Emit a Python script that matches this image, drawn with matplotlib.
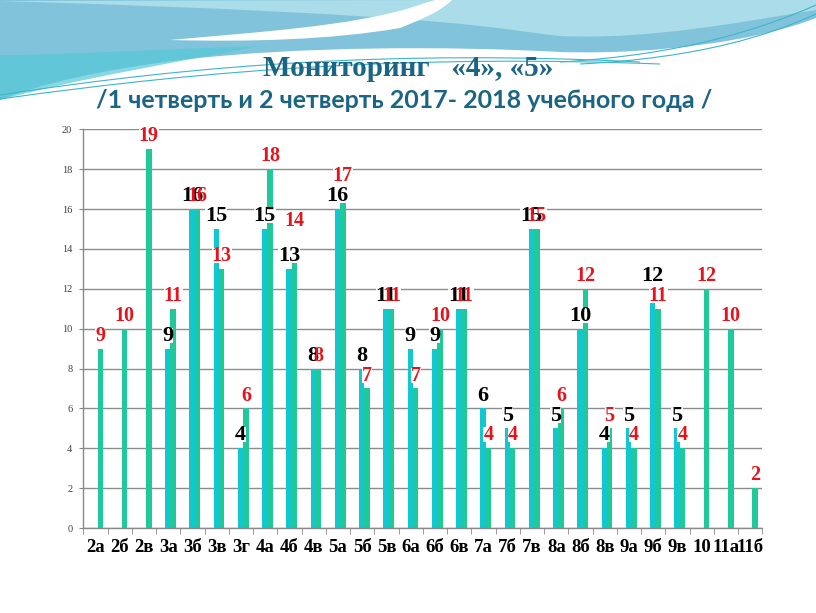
import numpy as np
import matplotlib
matplotlib.use("Agg")
import matplotlib.pyplot as plt
from matplotlib.path import Path
from matplotlib.patches import PathPatch, Rectangle

# ---------------- data ----------------
classes = ["2а", "2б", "2в", "3а", "3б", "3в", "3г", "4а", "4б", "4в",
           "5а", "5б", "5в", "6а", "6б", "6в", "7а", "7б", "7в", "8а",
           "8б", "8в", "9а", "9б", "9в", "10", "11а", "11б"]
q1 = [None, None, None, 9, 16, 15, 4, 15, 13, 8,
      16, 8, 11, 9, 9, 11, 6, 5, 15, 5,
      10, 4, 5, 12, 5, None, None, None]
q2 = [9, 10, 19, 11, 16, 13, 6, 18, 14, 8,
      17, 7, 11, 7, 10, 11, 4, 4, 15, 6,
      12, 5, 4, 11, 4, 12, 10, 2]
yticks = list(range(0, 21, 2))
title1 = "Мониторинг   «4», «5»"
title2 = "/1 четверть и 2 четверть 2017- 2018 учебного года /"

# ---------------- style ----------------
W, H = 816, 613
C_Q1 = "#12C8D0"
C_Q2 = "#1FC99A"
C_TITLE = "#1B6584"
C_RED = "#E5141C"
# extra vertical nudges (points) for a few labels of series 2
red_nudge = {"4б": 11}

fig = plt.figure(figsize=(W / 100, H / 100), dpi=100)
fig.patch.set_facecolor("white")


def px(pts):
    return [(x / W, 1 - y / H) for x, y in pts]


def add_shape(verts, codes, color, z=0, alpha=1.0):
    p = Path(px(verts), codes)
    patch = PathPatch(p, facecolor=color, edgecolor="none", transform=fig.transFigure,
                      zorder=z, alpha=alpha)
    fig.patches.append(patch)


M, L, C4, CL = Path.MOVETO, Path.LINETO, Path.CURVE4, Path.CLOSEPOLY

# blue top band
add_shape([(0, 0), (816, 0), (816, 18),
           (760, 40), (660, 55), (560, 52),
           (450, 46), (300, 46), (180, 60),
           (100, 70), (40, 84), (0, 100), (0, 0)],
          [M, L, L, C4, C4, C4, C4, C4, C4, C4, C4, C4, CL], "#82C3DC", z=0)
# cyan tint near left
add_shape([(0, 55), (60, 55), (140, 50), (260, 46), (180, 62), (80, 78), (0, 100), (0, 55)],
          [M, C4, C4, C4, C4, C4, C4, CL], "#55C8D8", z=0.1, alpha=0.7)
# light cyan top right
add_shape([(450, 0), (816, 0), (816, 10),
           (740, 22), (650, 40), (560, 36),
           (500, 30), (470, 15), (450, 0)],
          [M, L, L, C4, C4, C4, C4, C4, CL], "#AADDE9", z=0.2)
# white swoosh
add_shape([(170, 40), (260, 32), (350, 26), (410, 8),
           (425, 3), (435, 0), (452, 0),
           (440, 12), (420, 20), (400, 28),
           (330, 40), (250, 42), (170, 40)],
          [M, C4, C4, C4, L, L, L, C4, C4, C4, C4, C4, C4], "white", z=0.3)
# thin lines
for (a, b, c, d) in [((0, 95), (200, 64), (400, 50), (640, 62)),
                     ((0, 99), (220, 68), (420, 55), (660, 64)),
                     ((560, 62), (680, 55), (760, 30), (816, 5)),
                     ((580, 64), (700, 58), (770, 35), (816, 14))]:
    p = Path(px([a, b, c, d]), [M, C4, C4, C4])
    fig.patches.append(PathPatch(p, facecolor="none", edgecolor="#3DB5CC", lw=0.8,
                                 transform=fig.transFigure, zorder=0.4))

# titles
fig.text(0.5, 1 - 68 / H, title1, ha="center", va="center", fontsize=21,
         fontweight="bold", family="Liberation Serif", color=C_TITLE)
fig.text(404.5 / W, 1 - 101 / H, title2, ha="center", va="center", fontsize=18,
         fontweight="bold", family="Lato", color=C_TITLE)

# axes
ax = fig.add_axes([83.4 / W, 1 - 528 / H, (762.4 - 83.4) / W, (528 - 129.3) / H])
ax.set_facecolor("none")

n = len(classes)
x = np.arange(n)
bw = 0.22
off = 0.09
v1 = np.array([np.nan if v is None else v for v in q1], dtype=float)
v2 = np.array(q2, dtype=float)

ax.bar(x + off - bw / 2, v1, width=bw, color=C_Q1, zorder=2)
ax.bar(x + off + bw / 2, v2, width=bw, color=C_Q2, zorder=2)

labels = []


def label(xp, yp, txt, dy, size, color, z):
    t = ax.annotate(txt, (xp, yp), xytext=(0, dy), textcoords="offset points",
                    ha="center", va="bottom", fontsize=size, fontweight="bold",
                    family="Liberation Serif", color=color, zorder=z)
    labels.append(t)


for i, name in enumerate(classes):
    if not np.isnan(v1[i]):
        label(x[i] + off - bw / 2, v1[i], f"{int(v1[i])}", 2, 16, "black", 3)
for i, name in enumerate(classes):
    label(x[i] + off + bw / 2, v2[i], f"{int(v2[i])}", 2 + red_nudge.get(name, 0),
          14.5, C_RED, 4)

ax.set_xlim(-0.5, n - 0.5)
ax.set_ylim(0, 20)
ax.set_yticks(yticks)
ax.set_yticklabels([str(t) for t in yticks], fontsize=7.5, family="Liberation Serif",
                   color="#404040")
ax.set_xticks(x)
ax.set_xticklabels(classes, fontsize=13.5, fontweight="bold", family="Liberation Serif",
                   color="black")
ax.set_xticks(np.arange(-0.5, n, 1.0), minor=True)
ax.tick_params(axis="x", which="major", length=0, pad=8)
ax.tick_params(axis="x", which="minor", length=4, color="#888888", direction="out")
ax.tick_params(axis="y", which="major", length=3, color="#888888", pad=5)

ax.yaxis.grid(True, color="#8C8C8C", lw=1.0, zorder=0)
ax.set_axisbelow(True)
for s in ["top", "right"]:
    ax.spines[s].set_visible(False)
for s in ["left", "bottom"]:
    ax.spines[s].set_color("#888888")
    ax.spines[s].set_linewidth(1.0)

# white backing boxes behind labels (they hide bar parts, as in the original slide)
fig.canvas.draw()
renderer = fig.canvas.get_renderer()
inv = ax.transData.inverted()
for t in labels:
    bb = t.get_window_extent(renderer)
    (x0, y0), (x1, y1) = inv.transform([(bb.x0, bb.y0 + 3), (bb.x1, bb.y1 - 2)])
    ax.add_patch(Rectangle((x0, y0), x1 - x0, y1 - y0, facecolor="white",
                           edgecolor="none", zorder=2.5))

fig.savefig("out.png", dpi=100)
